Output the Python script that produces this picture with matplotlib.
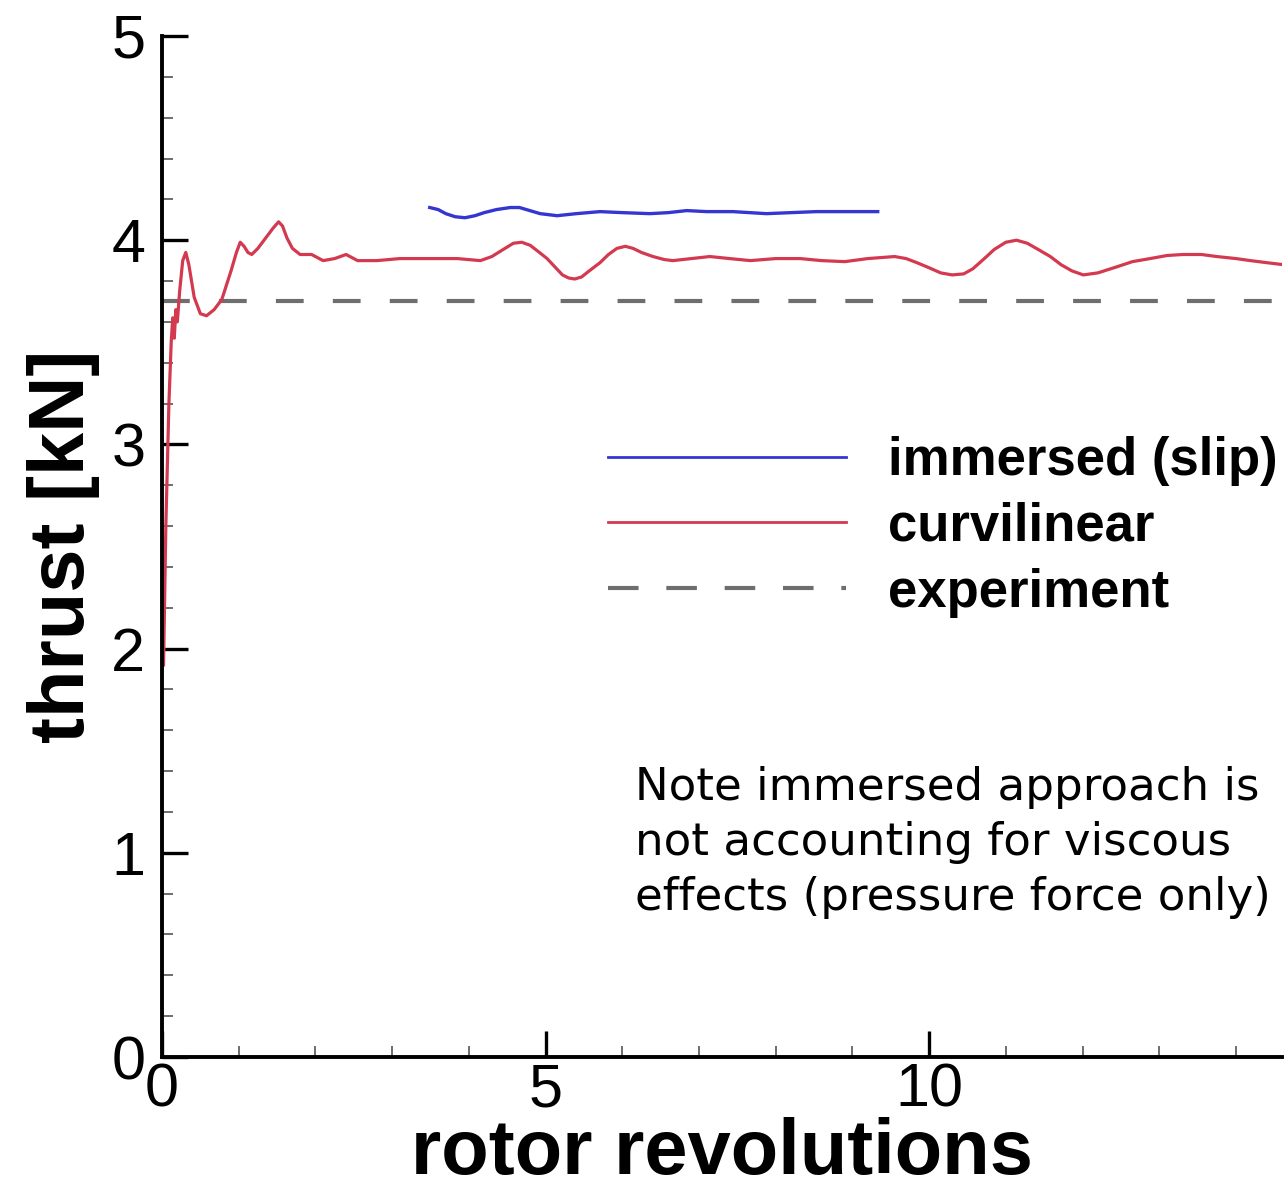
import matplotlib
matplotlib.use("Agg")
import matplotlib.pyplot as plt
from matplotlib.ticker import MultipleLocator
from matplotlib.lines import Line2D

plt.rcParams['lines.scale_dashes'] = False

# curvilinear-grid thrust history
curv_rev = [0.02, 0.05, 0.09, 0.12, 0.14, 0.16, 0.18, 0.20, 0.23, 0.27, 0.31, 0.35,
            0.42, 0.50, 0.58, 0.68, 0.78, 0.90, 0.97, 1.02, 1.07, 1.12, 1.17, 1.25,
            1.35, 1.45, 1.52, 1.57, 1.63, 1.70, 1.80, 1.95, 2.10, 2.25, 2.40, 2.55,
            2.80, 3.10, 3.50, 3.85, 4.15, 4.30, 4.45, 4.58, 4.69, 4.80, 4.92, 5.02,
            5.12, 5.22, 5.30, 5.38, 5.47, 5.57, 5.71, 5.82, 5.93, 6.04, 6.14, 6.25,
            6.40, 6.55, 6.66, 6.90, 7.14, 7.40, 7.67, 8.00, 8.32, 8.60, 8.90, 9.20,
            9.55, 9.70, 9.84, 10.00, 10.15, 10.30, 10.45, 10.57, 10.72, 10.85, 11.00,
            11.14, 11.28, 11.42, 11.58, 11.72, 11.86, 12.01, 12.20, 12.45, 12.65,
            12.88, 13.10, 13.31, 13.55, 13.75, 14.00, 14.19, 14.40, 14.62]
curv_thrust = [1.92, 2.60, 3.20, 3.50, 3.62, 3.52, 3.66, 3.60, 3.75, 3.90, 3.94, 3.88,
               3.72, 3.64, 3.63, 3.66, 3.71, 3.85, 3.94, 3.99, 3.97, 3.94, 3.93, 3.96,
               4.01, 4.06, 4.09, 4.07, 4.01, 3.96, 3.93, 3.93, 3.90, 3.91, 3.93, 3.90,
               3.90, 3.91, 3.91, 3.91, 3.90, 3.92, 3.955, 3.985, 3.99, 3.975, 3.94, 3.91,
               3.87, 3.83, 3.815, 3.81, 3.82, 3.85, 3.89, 3.93, 3.96, 3.97, 3.96, 3.94,
               3.92, 3.905, 3.90, 3.91, 3.92, 3.91, 3.90, 3.91, 3.91, 3.90, 3.895, 3.91,
               3.92, 3.91, 3.89, 3.865, 3.84, 3.83, 3.835, 3.86, 3.91, 3.955, 3.99,
               4.00, 3.985, 3.955, 3.92, 3.88, 3.85, 3.83, 3.84, 3.87, 3.895,
               3.91, 3.925, 3.93, 3.93, 3.92, 3.91, 3.90, 3.89, 3.88]

# immersed-boundary (slip wall) thrust history
imm_rev = [3.49, 3.60, 3.70, 3.82, 3.95, 4.08, 4.20, 4.36, 4.54, 4.66, 4.75, 4.84,
           4.93, 5.15, 5.40, 5.71, 6.00, 6.36, 6.60, 6.84, 7.10, 7.44, 7.88, 8.20,
           8.53, 8.90, 9.33]
imm_thrust = [4.16, 4.15, 4.13, 4.115, 4.11, 4.12, 4.135, 4.15, 4.16, 4.16, 4.15,
              4.14, 4.13, 4.12, 4.13, 4.14, 4.135, 4.13, 4.135, 4.145, 4.14, 4.14,
              4.13, 4.135, 4.14, 4.14, 4.14]

exp_thrust = 3.7

x_ticks = [0, 5, 10]
y_ticks = [0, 1, 2, 3, 4, 5]

series_labels = ["immersed (slip)", "curvilinear", "experiment"]
note_text = "Note immersed approach is\nnot accounting for viscous\neffects (pressure force only)"

red = "#d3394f"
blue = "#3535d2"
gray = "#6e6e6e"

W, H, DPI = 1287, 1199, 100
fig = plt.figure(figsize=(W / DPI, H / DPI), dpi=DPI)
ax = fig.add_axes([162 / W, 142 / H, (1282 - 162) / W, (1057 - 36) / H])

ax.axhline(exp_thrust, color=gray, lw=3.0, linestyle=(0, (20, 21)), zorder=1)
ax.plot(curv_rev, curv_thrust, color=red, lw=2.3, zorder=2)
ax.plot(imm_rev, imm_thrust, color=blue, lw=2.4, zorder=3)

ax.set_xlim(0, 14.6)
ax.set_ylim(0, 5)
ax.set_xticks(x_ticks)
ax.set_yticks(y_ticks)
ax.xaxis.set_minor_locator(MultipleLocator(1))
ax.yaxis.set_minor_locator(MultipleLocator(0.2))

for s in ("top", "right"):
    ax.spines[s].set_visible(False)
for s in ("left", "bottom"):
    ax.spines[s].set_linewidth(2.8)
    ax.spines[s].set_color("black")

ax.tick_params(axis="both", which="major", direction="in", length=19, width=2.4,
               labelsize=44, color="black")
ax.tick_params(axis="y", which="major", pad=12)
ax.tick_params(axis="x", which="major", pad=4)
ax.tick_params(axis="both", which="minor", direction="in", length=8, width=1.2,
               color="#555555")
for lab in ax.get_xticklabels() + ax.get_yticklabels():
    lab.set_family("Liberation Sans")

ax.set_xlabel("rotor revolutions", fontsize=56, fontweight="bold",
              family="Liberation Sans", labelpad=-2)
ax.set_ylabel("thrust [kN]", fontsize=56, fontweight="bold",
              family="Liberation Sans", labelpad=8)

handles = [Line2D([], [], color=blue, lw=2.0),
           Line2D([], [], color=red, lw=2.0),
           Line2D([], [], color=gray, lw=3.0, linestyle=(0, (22, 20)))]
leg = ax.legend(handles, series_labels, loc="upper left",
                bbox_to_anchor=((608 - 162) / (1282 - 162), (1057 - 436) / (1057 - 36)),
                frameon=False, prop=dict(family="Liberation Sans", weight="bold", size=38),
                handlelength=4.5, handletextpad=0.8, labelspacing=0.3,
                borderaxespad=0, borderpad=0)

fig.text(635 / W, 1 - 766 / H, note_text, ha="left", va="top", fontsize=32.5,
         family="DejaVu Sans", linespacing=1.36)

fig.savefig("out.png", dpi=DPI)
